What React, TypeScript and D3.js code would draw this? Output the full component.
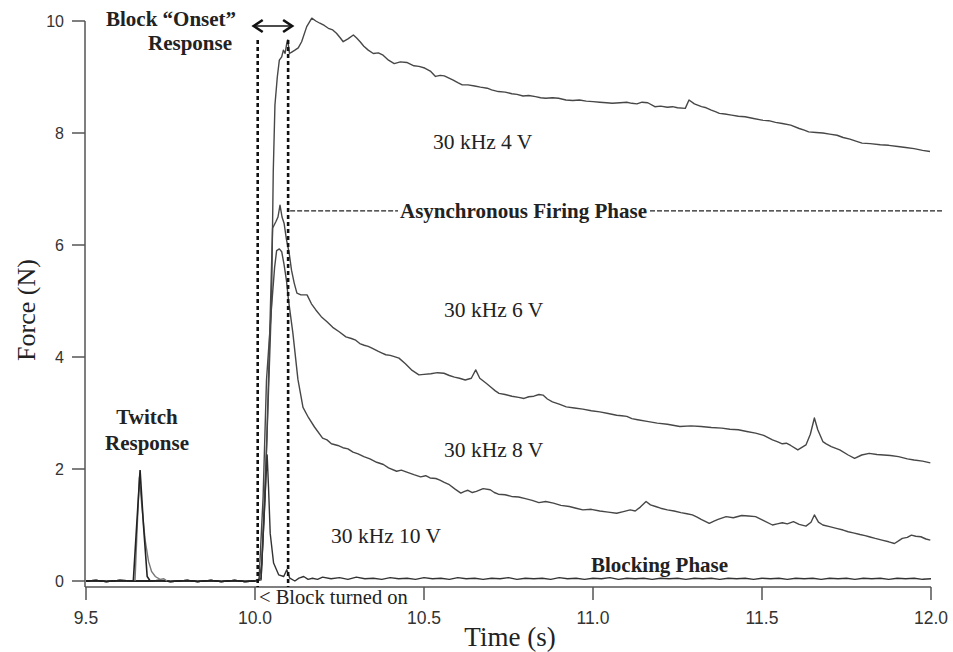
import React from "react";
import * as d3 from "d3";

// ---------- data (time in s, force in N) ----------
const xTicks = [9.5, 10.0, 10.5, 11.0, 11.5, 12.0];
const yTicks = [0, 2, 4, 6, 8, 10];

const baselinePre: [number, number][] = [
  [9.5, 0], [9.53, 0.01], [9.56, -0.01], [9.6, 0.01], [9.64, 0], [9.69, 0], [9.72, 0.01],
  [9.75, -0.01], [9.8, 0.01], [9.83, -0.01], [9.87, 0.01], [9.9, -0.01], [9.94, 0.01],
  [9.97, -0.01], [10.0, 0],
];
const twitchDark: [number, number][] = [
  [9.64, 0], [9.65, 1.0], [9.66, 1.98], [9.67, 1.0], [9.681, 0.08], [9.69, 0],
];
const twitchGray: [number, number][] = [
  [9.645, 0], [9.652, 1.03], [9.658, 1.86], [9.665, 1.35], [9.675, 0.73], [9.685, 0.35],
  [9.694, 0.17], [9.705, 0.08], [9.719, 0.03], [9.73, 0.04], [9.74, 0],
];

const trace4V: [number, number][] = [
  [10.0, 0], [10.012, 0.02], [10.02, 0.3], [10.035, 2.5], [10.049, 5.0], [10.054, 7.3], [10.059, 8.5],
  [10.066, 9.0], [10.072, 9.3], [10.079, 9.36], [10.084, 9.48], [10.089, 9.42], [10.094, 9.6],
  [10.097, 9.66], [10.102, 9.42], [10.11, 9.45], [10.118, 9.48], [10.128, 9.52], [10.138, 9.63],
  [10.153, 9.9], [10.168, 10.05], [10.18, 10.0], [10.192, 9.96], [10.205, 9.92], [10.217, 9.87],
  [10.23, 9.84], [10.241, 9.78], [10.252, 9.7], [10.261, 9.63], [10.275, 9.68], [10.291, 9.75],
  [10.3, 9.7], [10.311, 9.63], [10.322, 9.55], [10.335, 9.48], [10.35, 9.42], [10.365, 9.43],
  [10.379, 9.39], [10.395, 9.3], [10.412, 9.24], [10.43, 9.27], [10.449, 9.26], [10.47, 9.2],
  [10.485, 9.19], [10.502, 9.16], [10.52, 9.1], [10.534, 9.01], [10.548, 9.03], [10.56, 9.02],
  [10.585, 8.95], [10.6, 8.9], [10.613, 8.86], [10.63, 8.86], [10.65, 8.84], [10.667, 8.82],
  [10.687, 8.8], [10.7, 8.77], [10.72, 8.74], [10.74, 8.73], [10.76, 8.7], [10.775, 8.69],
  [10.793, 8.66], [10.81, 8.67], [10.83, 8.65], [10.845, 8.63], [10.86, 8.62], [10.88, 8.63],
  [10.898, 8.62], [10.92, 8.59], [10.94, 8.58], [10.96, 8.59], [10.98, 8.57], [11.0, 8.56],
  [11.02, 8.55], [11.04, 8.54], [11.057, 8.53], [11.08, 8.54], [11.1, 8.55], [11.115, 8.53],
  [11.13, 8.52], [11.145, 8.55], [11.162, 8.54], [11.183, 8.47], [11.2, 8.48], [11.22, 8.46],
  [11.235, 8.47], [11.25, 8.45], [11.273, 8.44], [11.284, 8.59], [11.3, 8.52], [11.321, 8.47],
  [11.335, 8.45], [11.35, 8.41], [11.362, 8.38], [11.374, 8.35], [11.39, 8.34], [11.41, 8.32],
  [11.43, 8.3], [11.45, 8.29], [11.475, 8.26], [11.5, 8.23], [11.52, 8.22], [11.54, 8.19],
  [11.56, 8.17], [11.585, 8.14], [11.61, 8.08], [11.625, 8.05], [11.638, 8.02], [11.66, 8.01],
  [11.68, 8.0], [11.7, 7.98], [11.722, 7.96], [11.74, 7.92], [11.76, 7.89], [11.78, 7.85],
  [11.796, 7.82], [11.82, 7.81], [11.85, 7.79], [11.875, 7.78], [11.902, 7.76], [11.925, 7.74],
  [11.95, 7.72], [11.975, 7.69], [11.997, 7.67],
];

const trace6V: [number, number][] = [
  [10.0, 0], [10.018, 0.05], [10.03, 1.5], [10.04, 3.6], [10.047, 5.2], [10.052, 6.3], [10.062, 6.42],
  [10.068, 6.5], [10.074, 6.71], [10.08, 6.5], [10.086, 6.39], [10.093, 6.1], [10.101, 5.86],
  [10.108, 5.55], [10.116, 5.32], [10.124, 5.14], [10.136, 5.11], [10.154, 5.11], [10.167, 4.95],
  [10.18, 4.84], [10.196, 4.72], [10.213, 4.63], [10.23, 4.53], [10.249, 4.45], [10.269, 4.36],
  [10.285, 4.33], [10.298, 4.3], [10.31, 4.24], [10.323, 4.21], [10.335, 4.19], [10.346, 4.16],
  [10.365, 4.1], [10.376, 4.07], [10.387, 4.04], [10.4, 4.03], [10.41, 4.01], [10.426, 3.98],
  [10.445, 3.88], [10.465, 3.76], [10.485, 3.68], [10.5, 3.69], [10.52, 3.7], [10.54, 3.72],
  [10.559, 3.71], [10.575, 3.67], [10.59, 3.64], [10.605, 3.62], [10.622, 3.59], [10.64, 3.62],
  [10.653, 3.77], [10.665, 3.62], [10.684, 3.53], [10.7, 3.45], [10.71, 3.4], [10.722, 3.35],
  [10.74, 3.33], [10.76, 3.3], [10.78, 3.28], [10.796, 3.26], [10.81, 3.29], [10.825, 3.3],
  [10.84, 3.33], [10.852, 3.32], [10.865, 3.25], [10.88, 3.2], [10.9, 3.16], [10.921, 3.11],
  [10.945, 3.09], [10.97, 3.07], [10.995, 3.04], [11.02, 3.02], [11.045, 2.99], [11.07, 2.96],
  [11.085, 2.95], [11.1, 2.94], [11.115, 2.9], [11.132, 2.88], [11.16, 2.85], [11.19, 2.82],
  [11.22, 2.8], [11.257, 2.76], [11.29, 2.77], [11.32, 2.76], [11.35, 2.74], [11.381, 2.73],
  [11.405, 2.71], [11.43, 2.7], [11.455, 2.67], [11.481, 2.64], [11.505, 2.6], [11.531, 2.52],
  [11.545, 2.49], [11.56, 2.45], [11.572, 2.46], [11.585, 2.42], [11.606, 2.34], [11.63, 2.43],
  [11.643, 2.62], [11.655, 2.91], [11.665, 2.7], [11.68, 2.49], [11.69, 2.45], [11.705, 2.4],
  [11.73, 2.34], [11.755, 2.25], [11.774, 2.19], [11.795, 2.25], [11.817, 2.28], [11.84, 2.26],
  [11.86, 2.25], [11.88, 2.24], [11.904, 2.22], [11.93, 2.18], [11.95, 2.16], [11.975, 2.14],
  [11.998, 2.11],
];

const trace8V: [number, number][] = [
  [10.0, 0], [10.012, 0.03], [10.024, 1.5], [10.034, 3.59], [10.049, 4.9], [10.058, 5.6], [10.064, 5.9],
  [10.072, 5.93], [10.079, 5.88], [10.086, 5.65], [10.093, 5.37], [10.099, 5.02], [10.112, 4.43],
  [10.127, 3.6], [10.142, 3.1], [10.158, 2.92], [10.176, 2.75], [10.2, 2.55], [10.213, 2.52],
  [10.226, 2.45], [10.245, 2.42], [10.26, 2.38], [10.275, 2.36], [10.29, 2.3], [10.305, 2.27],
  [10.322, 2.22], [10.34, 2.18], [10.36, 2.12], [10.38, 2.08], [10.395, 2.02], [10.419, 1.96],
  [10.433, 1.98], [10.447, 1.95], [10.47, 1.9], [10.49, 1.86], [10.505, 1.88], [10.518, 1.84],
  [10.535, 1.83], [10.547, 1.8], [10.56, 1.76], [10.575, 1.72], [10.592, 1.64], [10.609, 1.57],
  [10.62, 1.6], [10.63, 1.62], [10.643, 1.58], [10.655, 1.6], [10.675, 1.65], [10.696, 1.63],
  [10.708, 1.58], [10.72, 1.55], [10.74, 1.54], [10.759, 1.51], [10.78, 1.5], [10.8, 1.47],
  [10.82, 1.44], [10.84, 1.4], [10.86, 1.42], [10.883, 1.39], [10.905, 1.35], [10.93, 1.33],
  [10.95, 1.3], [10.97, 1.27], [10.995, 1.28], [11.02, 1.25], [11.045, 1.23], [11.07, 1.21],
  [11.09, 1.24], [11.11, 1.27], [11.125, 1.25], [11.14, 1.32], [11.157, 1.42], [11.17, 1.36],
  [11.185, 1.33], [11.2, 1.3], [11.22, 1.27], [11.24, 1.25], [11.26, 1.22], [11.278, 1.2],
  [11.294, 1.18], [11.308, 1.14], [11.32, 1.1], [11.344, 1.03], [11.358, 1.07], [11.37, 1.1],
  [11.394, 1.15], [11.415, 1.13], [11.44, 1.17], [11.46, 1.16], [11.481, 1.15], [11.505, 1.08],
  [11.531, 1.0], [11.545, 1.02], [11.56, 1.04], [11.575, 1.02], [11.593, 1.06], [11.61, 1.01],
  [11.63, 0.98], [11.645, 1.05], [11.655, 1.18], [11.667, 1.05], [11.68, 1.0], [11.7, 0.97],
  [11.72, 0.94], [11.74, 0.91], [11.755, 0.88], [11.77, 0.86], [11.79, 0.83], [11.805, 0.81],
  [11.817, 0.79], [11.835, 0.76], [11.855, 0.73], [11.875, 0.7], [11.892, 0.67], [11.905, 0.72],
  [11.915, 0.76], [11.93, 0.78], [11.942, 0.82], [11.955, 0.8], [11.97, 0.79], [11.985, 0.75],
  [11.998, 0.73],
];

const trace10V: [number, number][] = [
  [10.0, 0], [10.018, 0.02], [10.028, 1.3], [10.036, 2.25], [10.04, 1.68], [10.045, 0.85],
  [10.055, 0.32], [10.07, 0.11], [10.085, 0.08], [10.094, 0.2], [10.103, 0.05], [10.118, 0.0],
  [10.13, 0.05], [10.144, 0.08], [10.157, 0.03], [10.17, 0.05], [10.185, 0.03], [10.2, 0.07],
  [10.225, 0.04], [10.25, 0.06], [10.275, 0.03], [10.3, 0.07], [10.325, 0.04], [10.35, 0.05],
  [10.375, 0.03], [10.4, 0.06], [10.425, 0.04], [10.45, 0.05], [10.475, 0.03], [10.5, 0.06],
  [10.525, 0.04], [10.55, 0.05], [10.575, 0.03], [10.6, 0.06], [10.625, 0.04], [10.65, 0.05],
  [10.675, 0.03], [10.7, 0.05], [10.725, 0.04], [10.75, 0.06], [10.775, 0.03], [10.8, 0.05],
  [10.825, 0.04], [10.85, 0.05], [10.875, 0.03], [10.9, 0.06], [10.925, 0.04], [10.95, 0.05],
  [10.975, 0.03], [11.0, 0.05], [11.025, 0.04], [11.05, 0.06], [11.075, 0.03], [11.1, 0.05],
  [11.125, 0.04], [11.15, 0.05], [11.175, 0.03], [11.2, 0.05], [11.225, 0.04], [11.25, 0.05],
  [11.275, 0.03], [11.3, 0.05], [11.325, 0.04], [11.35, 0.05], [11.375, 0.03], [11.4, 0.05],
  [11.425, 0.04], [11.45, 0.05], [11.475, 0.03], [11.5, 0.05], [11.525, 0.04], [11.55, 0.05],
  [11.575, 0.03], [11.6, 0.05], [11.625, 0.04], [11.65, 0.05], [11.675, 0.03], [11.7, 0.05],
  [11.725, 0.04], [11.75, 0.05], [11.775, 0.03], [11.8, 0.05], [11.825, 0.04], [11.85, 0.05],
  [11.875, 0.03], [11.9, 0.05], [11.925, 0.04], [11.95, 0.05], [11.975, 0.03], [12.0, 0.04],
];

const onsetWindow = [10.008, 10.098];
const onsetTop = 9.66;
const asyncLevel = 6.61;

// ---------- layout ----------
const W = 953;
const H = 652;
const serif = "'Liberation Serif', 'Times New Roman', serif";
const sans = "'Liberation Sans', Arial, sans-serif";

export default function App() {
  const x = d3.scaleLinear().domain([9.5, 12.0]).range([86, 931]);
  const y = d3.scaleLinear().domain([0, 10]).range([581, 21]);
  const axisY = y(0) + 6;
  const axisX = 85;
  const line = d3
    .line<[number, number]>()
    .x((d) => x(d[0]))
    .y((d) => y(d[1]));

  const traceColor = "#474747";
  const traces = [trace4V, trace6V, trace8V, trace10V];

  return (
    <svg
      width={W}
      height={H}
      style={{ position: "absolute", left: 0, top: 0, background: "#fff" }}
    >
      <rect x={0} y={0} width={W} height={H} fill="#fff" />
      {/* axes */}
      <line x1={axisX} x2={axisX} y1={y(10)} y2={axisY} stroke="#555" strokeWidth={1.5} />
      <line x1={axisX} x2={x(12)} y1={axisY} y2={axisY} stroke="#555" strokeWidth={1.5} />
      {yTicks.map((t) => (
        <g key={"y" + t}>
          <line x1={axisX - 13} x2={axisX} y1={y(t)} y2={y(t)} stroke="#555" strokeWidth={1.5} />
          <text x={axisX - 21} y={y(t) + 5.5} textAnchor="end" fontFamily={sans} fontSize={16} fill="#333">
            {t}
          </text>
        </g>
      ))}
      {xTicks.map((t) => (
        <g key={"x" + t}>
          <line x1={x(t)} x2={x(t)} y1={axisY} y2={axisY + 13} stroke="#555" strokeWidth={1.5} />
          <text x={x(t)} y={624} textAnchor="middle" fontFamily={sans} fontSize={17.5} fill="#333">
            {d3.format(".1f")(t)}
          </text>
        </g>
      ))}
      <text x={510} y={646} textAnchor="middle" fontFamily={serif} fontSize={27} fill="#222">
        Time (s)
      </text>
      <text
        transform={`translate(35,${310}) rotate(-90)`}
        textAnchor="middle"
        fontFamily={serif}
        fontSize={26}
        fill="#222"
      >
        Force (N)
      </text>

      {/* traces */}
      {traces.map((tr, i) => (
        <path
          key={"pre" + i}
          d={line(baselinePre) || ""}
          fill="none"
          stroke="#222"
          strokeWidth={1.4}
        />
      ))}
      <path d={line(twitchGray) || ""} fill="none" stroke="#777" strokeWidth={1.4} />
      <path d={line(twitchDark) || ""} fill="none" stroke="#222" strokeWidth={1.6} />
      {traces.map((tr, i) => (
        <path
          key={"tr" + i}
          d={line(tr) || ""}
          fill="none"
          stroke={i === 3 ? "#333" : traceColor}
          strokeWidth={1.4}
          strokeLinejoin="round"
        />
      ))}

      {/* onset window dashed lines */}
      {onsetWindow.map((t) => (
        <line
          key={"ow" + t}
          x1={x(t)}
          x2={x(t)}
          y1={y(onsetTop)}
          y2={axisY}
          stroke="#111"
          strokeWidth={2.6}
          strokeDasharray="4,3"
        />
      ))}
      {/* double arrow */}
      <g stroke="#111" strokeWidth={2.6} fill="none" strokeLinejoin="miter">
        <path d={`M${x(onsetWindow[0]) + 5},${20} L${x(onsetWindow[0]) - 4},${26} L${x(onsetWindow[0]) + 5},${32}`} />
        <path d={`M${x(onsetWindow[1]) - 5},${20} L${x(onsetWindow[1]) + 4},${26} L${x(onsetWindow[1]) - 5},${32}`} />
        <line x1={x(onsetWindow[0]) - 2} x2={x(onsetWindow[1]) + 2} y1={26} y2={26} strokeWidth={1.6} />
      </g>

      {/* asynchronous phase dashed line */}
      <line x1={x(onsetWindow[1]) + 2} x2={398} y1={y(asyncLevel)} y2={y(asyncLevel)} stroke="#222" strokeWidth={1.4} strokeDasharray="5,2" />
      <line x1={650} x2={943} y1={y(asyncLevel)} y2={y(asyncLevel)} stroke="#222" strokeWidth={1.4} strokeDasharray="5,2" />

      {/* annotations */}
      <g fontFamily={serif} fill="#222">
        <text x={106} y={26} fontSize={21} fontWeight="bold">Block “Onset”</text>
        <text x={148} y={50} fontSize={21} fontWeight="bold">Response</text>
        <text x={147} y={424} fontSize={21} fontWeight="bold" textAnchor="middle">Twitch</text>
        <text x={147} y={450} fontSize={21} fontWeight="bold" textAnchor="middle">Response</text>
        <text x={400} y={218} fontSize={21} fontWeight="bold">Asynchronous Firing Phase</text>
        <text x={591} y={572} fontSize={21} fontWeight="bold">Blocking Phase</text>
        <text x={433} y={149} fontSize={21.5}>30 kHz 4 V</text>
        <text x={444} y={317} fontSize={21.5}>30 kHz 6 V</text>
        <text x={444} y={457} fontSize={21.5}>30 kHz 8 V</text>
        <text x={331} y={543} fontSize={21.5}>30 kHz 10 V</text>
        <text x={259} y={604} fontSize={20.5}>{"< Block turned on"}</text>
      </g>
    </svg>
  );
}
